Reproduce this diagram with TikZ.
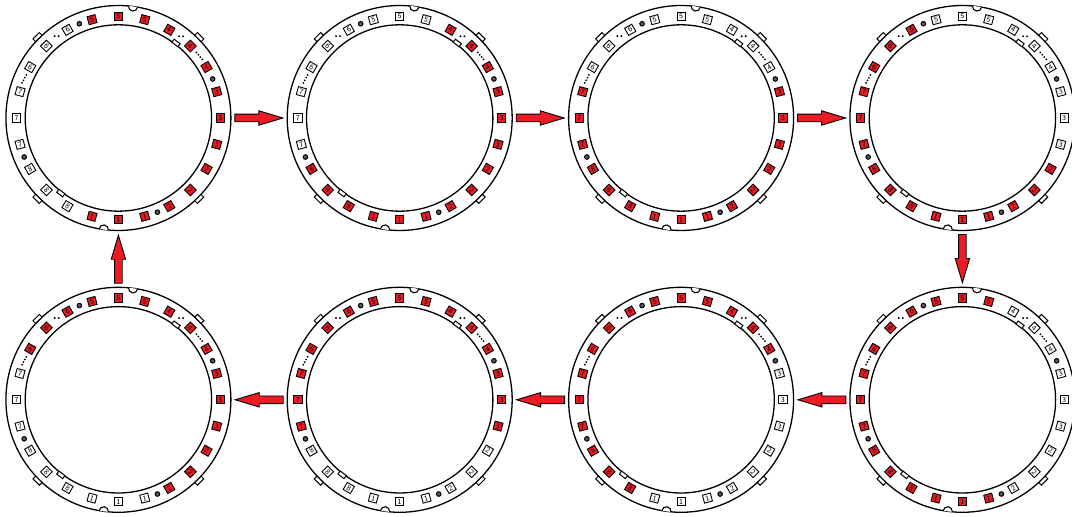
\documentclass[tikz,border=0pt]{standalone}
\usepackage{amsmath}
\usepackage{tikz}
\usetikzlibrary{calc,positioning}

\definecolor{ledred}{HTML}{ED1C24}

\tikzset{
	ringline/.style={circle, draw=black, line width=1.3pt, inner sep=0pt, outer sep=0pt},
	ledbox/.style={rectangle, draw=black, line width=.9pt, minimum size=8.2pt, inner sep=0pt, outer sep=0pt, text=black, font=\sffamily\fontsize{7.5}{7.5}\selectfont},
	led0/.style={fill=ledred},
	led1/.style={fill=white},
	tab/.style={rectangle, draw=black, fill=white, line width=1pt, minimum width=9pt, minimum height=3.8pt, inner sep=0pt, outer sep=0pt},
	via/.style={circle, draw=black, fill=black!65, line width=1pt, minimum size=4.6pt, inner sep=0pt, outer sep=0pt},
	blockarrow/.style={draw=black, fill=ledred, line width=.9pt, to path={
		let \p1=($(\tikztotarget)-(\tikztostart)$), \n1={atan2(\y1,\x1)} in
		($(\tikztostart)+(\n1:116.5)+(\n1+90:3.8)$) --
		($(\tikztostart)+(\n1:140.5)+(\n1+90:3.8)$) --
		($(\tikztostart)+(\n1:140.5)+(\n1+90:7.2)$) --
		($(\tikztostart)+(\n1:164.5)$) --
		($(\tikztostart)+(\n1:140.5)+(\n1-90:7.2)$) --
		($(\tikztostart)+(\n1:140.5)+(\n1-90:3.8)$) --
		($(\tikztostart)+(\n1:116.5)+(\n1-90:3.8)$) -- cycle}}
}

\begin{document}
\begin{tikzpicture}[x=1pt, y=1pt]
	\useasboundingbox (0,0) rectangle (1072,517);

	\foreach \rname/\cx/\cy/\offa/\offb/\offc in {
		ring1/118.4/399/6/7/8, ring2/399.7/399/5/6/7, ring3/681.1/399/4/5/6, ring4/962.4/399/3/4/5,
		ring5/962.4/117.2/2/3/4, ring6/681.1/117.2/1/2/3, ring7/399.7/117.2/8/1/2, ring8/118.4/117.2/7/8/1} {
		\node (\rname) [ringline, minimum size=225pt] at (\cx,\cy) {};
		\node (\rname-in) [ringline, minimum size=186.4pt] at (\cx,\cy) {};

		\foreach \ang/\num/\rot in {
			105/5/15, 90/5/0, 75/5/-15, 60/4/-30, 45/4/-45, 30/4/30,
			15/3/15, 0/3/0, -15/3/-15, -30/2/-30, -45/2/-45, -60/2/30,
			-75/1/15, -90/1/0, -105/1/-15, -120/8/-30, -135/8/-45, -150/8/30,
			-165/7/15, 180/7/0, 165/7/-15, 150/6/-30, 135/6/-45, 120/6/30} {
			\pgfmathtruncatemacro{\isoff}{(\num==\offa)||(\num==\offb)||(\num==\offc)}
			\node (\rname-led\ang) [ledbox, led\isoff, rotate=\rot] at ([shift={(\ang:101.8)}]\rname.center) {\num};
		}

		\foreach \ang in {135,45,-45,-135}
			\node (\rname-out\ang) [tab, rotate=\ang-90] at ([shift={(\ang:114.4)}]\rname.center) {};
		\foreach \ang in {52.5,-127.5}
			\node (\rname-inner\ang) [tab, minimum width=7.5pt, rotate=\ang-90] at ([shift={(\ang:94.6)}]\rname.center) {};
		\foreach \ang in {112.5,22.5,-157.5,-67.5}
			\node (\rname-via\ang) [via] at ([shift={(\ang:102)}]\rname.center) {};

		\fill ([shift={(127:102.5)}]\rname.center) ++(-2,0) circle[radius=1.1] ++(4,0) circle[radius=1.1];
		\fill ([shift={(52.5:103)}]\rname.center) ++(-2,0) circle[radius=1.1] ++(4,0) circle[radius=1.1];
		\foreach \k in {-1.5,-.5,.5,1.5} {
			\fill ([shift={(37.5:102)}]\rname.center) ++(-50:{3*\k}) circle[radius=1];
			\fill ([shift={(157.5:102)}]\rname.center) ++(62:{3*\k}) circle[radius=1];
		}

		\foreach \ang in {82.5,-97.5}
			\draw [shift={(\cx,\cy)}, rotate=\ang, line width=1.1pt, fill=white] (112.5,4.6) arc[start angle=90, end angle=270, radius=4.6];
	}

	\foreach \from/\to in {ring1/ring2, ring2/ring3, ring3/ring4, ring4/ring5, ring5/ring6, ring6/ring7, ring7/ring8, ring8/ring1}
		\draw [blockarrow] (\from) to (\to);
\end{tikzpicture}
\end{document}
